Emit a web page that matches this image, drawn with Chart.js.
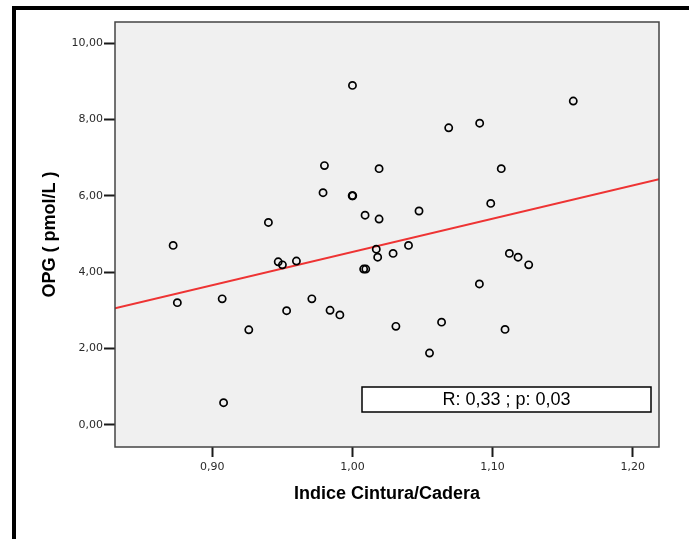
<!DOCTYPE html>
<html>
<head>
<meta charset="utf-8">
<script src="https://cdn.jsdelivr.net/npm/chart.js@4/dist/chart.umd.min.js"></script>
<style>
  html, body { margin: 0; padding: 0; background: #fff; }
  canvas { display: block; }
</style>
</head>
<body>
<canvas id="myChart" width="689" height="539"></canvas>
<script>
// Indice Cintura/Cadera vs OPG
const icc = [0.872, 0.875, 0.907, 0.908, 0.926, 0.940, 0.947, 0.950, 0.953, 0.960,
  0.971, 0.979, 0.980, 0.984, 0.991, 1.000, 0.9998, 1.0002, 1.009, 1.008,
  1.0095, 1.017, 1.018, 1.019, 1.019, 1.029, 1.031, 1.040, 1.0475, 1.055,
  1.0636, 1.0687, 1.0906, 1.0908, 1.0987, 1.1062, 1.1089, 1.112, 1.1182, 1.1258,
  1.1576]
const opg = [4.70, 3.20, 3.30, 0.58, 2.49, 5.30, 4.27, 4.19, 2.99, 4.29,
  3.30, 6.08, 6.79, 3.00, 2.88, 8.89, 6.00, 6.00, 5.49, 4.08,
  4.08, 4.60, 4.39, 6.71, 5.39, 4.49, 2.58, 4.70, 5.60, 1.88,
  2.69, 7.78, 3.69, 7.90, 5.80, 6.71, 2.50, 4.49, 4.39, 4.19,
  8.48]

// fit line end points (at the axis limits)
const fitX = [0.8305, 1.2188]
const fitY = [3.05, 6.43]

const xTicks = [0.90, 1.00, 1.10, 1.20]
const yTicks = [0, 2, 4, 6, 8, 10]
const statsText = 'R: 0,33 ; p: 0,03'

const fmt = v => Number(v).toFixed(2).replace('.', ',')

const frame = {
  id: 'frame',
  beforeDraw(chart) {
    const { ctx, chartArea: a } = chart
    ctx.save()
    ctx.fillStyle = '#fff'
    ctx.fillRect(0, 0, chart.width, chart.height)
    ctx.fillStyle = '#000'
    ctx.fillRect(12, 6, 4, chart.height - 6)
    ctx.fillRect(12, 6, chart.width - 12, 4)
    ctx.fillStyle = '#f0f0f0'
    ctx.fillRect(a.left, a.top, a.right - a.left, a.bottom - a.top)
    ctx.restore()
  },
  afterDraw(chart) {
    const { ctx, chartArea: a } = chart
    ctx.save()
    ctx.strokeStyle = '#444'
    ctx.lineWidth = 1.5
    ctx.strokeRect(a.left, a.top, a.right - a.left, a.bottom - a.top)
    // stats box
    const bx = a.left + 247, by = a.bottom - 60, bw = 289, bh = 25
    ctx.fillStyle = '#fff'
    ctx.fillRect(bx, by, bw, bh)
    ctx.strokeStyle = '#000'
    ctx.lineWidth = 1.5
    ctx.strokeRect(bx, by, bw, bh)
    ctx.fillStyle = '#000'
    ctx.font = '18px "Liberation Sans", Arial, sans-serif'
    ctx.textAlign = 'center'
    ctx.textBaseline = 'middle'
    ctx.fillText(statsText, bx + bw / 2, by + bh / 2 + 1)
    ctx.restore()
  }
}

const ctx = document.getElementById('myChart')
new Chart(ctx, {
  type: 'scatter',
  data: {
    datasets: [{
      data: icc.map((x, i) => ({ x, y: opg[i] })),
      pointStyle: 'circle',
      pointRadius: 3.6,
      pointBorderWidth: 1.7,
      pointBorderColor: '#000',
      pointBackgroundColor: 'rgba(0,0,0,0)',
      order: 1
    }, {
      data: fitX.map((x, i) => ({ x, y: fitY[i] })),
      showLine: true,
      borderColor: '#ee3333',
      borderWidth: 2,
      pointRadius: 0,
      order: 2
    }]
  },
  options: {
    responsive: false,
    animation: false,
    layout: { padding: { left: 0, top: 22, right: 30, bottom: 0 } },
    plugins: { legend: { display: false }, tooltip: { enabled: false } },
    scales: {
      x: {
        type: 'linear',
        min: 0.8305,
        max: 1.2188,
        afterBuildTicks: s => { s.ticks = xTicks.map(v => ({ value: v })) },
        afterFit: s => { s.height = 92 },
        grid: { drawOnChartArea: false, drawTicks: true, tickLength: 10, tickWidth: 2, tickColor: '#1a1a1a' },
        border: { display: false },
        ticks: {
          padding: 4,
          color: '#2a2a2a',
          font: { family: 'DejaVu Sans', size: 11 },
          callback: v => fmt(v),
          maxRotation: 0
        },
        title: {
          display: true,
          text: 'Indice Cintura/Cadera',
          color: '#000',
          font: { family: 'Liberation Sans', size: 18, weight: 'bold' },
          padding: { top: 0, bottom: 34 }
        }
      },
      y: {
        min: -0.58,
        max: 10.55,
        afterBuildTicks: s => { s.ticks = yTicks.map(v => ({ value: v })) },
        afterFit: s => { s.width = 115 },
        grid: { drawOnChartArea: false, drawTicks: true, tickLength: 11, tickWidth: 2, tickColor: '#1a1a1a' },
        border: { display: false },
        ticks: {
          padding: 1,
          color: '#2a2a2a',
          font: { family: 'DejaVu Sans', size: 11 },
          callback: v => fmt(v)
        },
        title: {
          display: true,
          text: 'OPG ( pmol/L )',
          color: '#000',
          font: { family: 'Liberation Sans', size: 18, weight: 'bold' },
          padding: { top: 39, bottom: 0 }
        }
      }
    }
  },
  plugins: [frame]
})
</script>
</body>
</html>
